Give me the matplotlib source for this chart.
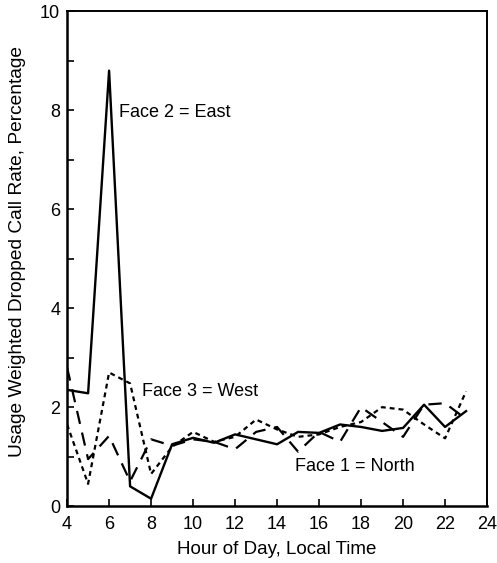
import matplotlib
matplotlib.use("Agg")
import matplotlib.pyplot as plt
from matplotlib.ticker import MultipleLocator

plt.rcParams['font.family'] = ['Liberation Sans', 'DejaVu Sans']

FONT_SIZE = 13
LABEL_SIZE = 13.5

# Hour of day
hours = [4, 5, 6, 7, 8, 9, 10, 11, 12, 13, 14, 15, 16, 17, 18, 19, 20, 21, 22, 23]

# Usage weighted dropped call rate (%) per face
face2_east = [2.35, 2.28, 8.8, 0.4, 0.15, 1.25, 1.38, 1.28, 1.45, 1.35, 1.25, 1.5, 1.48,
              1.65, 1.6, 1.52, 1.58, 2.05, 1.6, 1.92]
face3_west = [1.65, 0.45, 2.7, 2.48, 0.65, 1.2, 1.5, 1.3, 1.4, 1.75, 1.55, 1.4, 1.45,
              1.6, 1.7, 2.0, 1.95, 1.65, 1.37, 2.32]
face1_north = [2.8, 0.95, 1.42, 0.5, 1.35, 1.22, 1.35, 1.3, 1.15, 1.5, 1.6, 1.1, 1.5,
               1.3, 2.0, 1.7, 1.4, 2.05, 2.08, 1.76]

fig = plt.figure(figsize=(4.97, 5.63), dpi=100)
ax = fig.add_axes([0.135, 0.101, 0.845, 0.879])

ax.plot(hours, face2_east, color="black", lw=1.7, ls="-")
ax.plot(hours, face3_west, color="black", lw=1.6, ls=(0, (2.2, 1.8)))
ax.plot(hours, face1_north, color="black", lw=1.6, ls=(0, (6, 4)))

ax.text(6.48, 7.96, "Face 2 = East", fontsize=FONT_SIZE, va="center", ha="left")
ax.text(7.57, 2.32, "Face 3 = West", fontsize=FONT_SIZE, va="center", ha="left")
ax.text(14.86, 0.81, "Face 1 = North", fontsize=FONT_SIZE, va="center", ha="left")

ax.set_xlim(4, 24)
ax.set_ylim(0, 10)
ax.xaxis.set_major_locator(MultipleLocator(2))
ax.yaxis.set_major_locator(MultipleLocator(2))
ax.yaxis.set_minor_locator(MultipleLocator(1))
ax.tick_params(axis="both", which="both", direction="in", labelsize=FONT_SIZE,
               length=5, width=1.2)
ax.tick_params(axis="x", pad=7)
ax.tick_params(axis="y", pad=5)

for side in ["left", "bottom"]:
    ax.spines[side].set_linewidth(1.8)
for side in ["top", "right"]:
    ax.spines[side].set_linewidth(1.4)

ax.set_xlabel("Hour of Day, Local Time", fontsize=LABEL_SIZE, labelpad=6)
ax.set_ylabel("Usage Weighted Dropped Call Rate, Percentage", fontsize=13.8)
ax.yaxis.set_label_coords(-0.098, 0.515)

fig.savefig("out.png", dpi=100)
